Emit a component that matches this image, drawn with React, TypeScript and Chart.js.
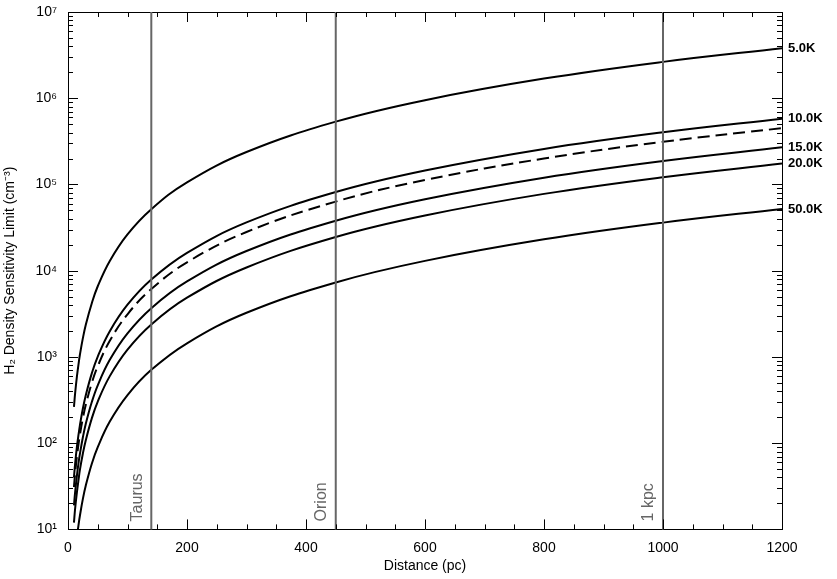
import React, { useEffect, useRef } from 'react';
import { Chart, registerables } from 'chart.js';

Chart.register(...registerables);

const distances = [10, 12, 15, 18, 20, 25, 30, 40, 50, 70, 100, 140, 200, 300, 450, 600, 800, 1000, 1200];
// (roughly square-law curves)
const n5K = [264, 380, 594, 855, 1060, 1650, 2380, 4200, 6600, 12900, 26400, 51700, 106000, 238000, 535000, 950000, 1690000, 2640000, 3800000];
const n10K = [40, 58, 91, 130, 161, 252, 363, 645, 1010, 1975, 4030, 7900, 16100, 36300, 81600, 145000, 258000, 403000, 580000];
const nDashed = [31, 45, 70, 101, 125, 195, 281, 500, 781, 1530, 3125, 6125, 12500, 28100, 63300, 112500, 200000, 312500, 450000];
const n15K = [19, 27, 42, 61, 75, 117, 169, 300, 469, 919, 1875, 3675, 7500, 16900, 38000, 67500, 120000, 187500, 270000];
const n20K = [12, 17.5, 27, 39, 49, 76, 109, 194, 304, 595, 1215, 2380, 4860, 10900, 24600, 43700, 77800, 121500, 175000];
const n50K = [3.6, 5.2, 8.1, 11.7, 14.4, 22.6, 32.5, 57.8, 90, 177, 361, 708, 1440, 3250, 7310, 13000, 23100, 36100, 52000];

const seriesLabels = ['5.0K', '10.0K', '', '15.0K', '20.0K', '50.0K'];
const seriesValues = [n5K, n10K, nDashed, n15K, n20K, n50K];

const markerPositions = [140, 450, 1000];
const markerNames = ['Taurus', 'Orion', '1 kpc'];

const sup: Record<string, string> = { '0': '⁰', '1': '¹', '2': '²', '3': '³', '4': '⁴', '5': '⁵', '6': '⁶', '7': '⁷', '8': '⁸', '9': '⁹' };

const FONT = '"Liberation Sans", Arial, sans-serif';

const overlay = {
  id: 'overlay',
  afterDatasetsDraw(chart: any) {
    const { ctx, chartArea: a, scales } = chart;
    const x = scales.x;
    const y = scales.y;
    ctx.save();
    // marker lines
    ctx.strokeStyle = '#666';
    ctx.lineWidth = 2;
    ctx.fillStyle = '#666';
    ctx.font = `16px ${FONT}`;
    markerPositions.forEach((p, i) => {
      const px = x.getPixelForValue(p);
      ctx.beginPath();
      ctx.moveTo(px, a.top);
      ctx.lineTo(px, a.bottom);
      ctx.stroke();
      ctx.save();
      ctx.translate(px - 6, a.bottom - 8);
      ctx.rotate(-Math.PI / 2);
      ctx.textAlign = 'left';
      ctx.textBaseline = 'bottom';
      ctx.fillText(markerNames[i], 0, 0);
      ctx.restore();
    });
    // right labels
    ctx.fillStyle = '#000';
    ctx.font = `bold 13px ${FONT}`;
    ctx.textAlign = 'left';
    ctx.textBaseline = 'middle';
    seriesValues.forEach((vals, i) => {
      if (!seriesLabels[i]) return;
      ctx.fillText(seriesLabels[i], a.right + 6, y.getPixelForValue(vals[vals.length - 1]));
    });
    // inward ticks
    ctx.strokeStyle = '#000';
    ctx.lineWidth = 1;
    ctx.beginPath();
    for (let v = 0; v <= 1200; v += 50) {
      const px = Math.round(x.getPixelForValue(v)) + 0.5;
      const len = v % 200 === 0 ? 10 : 5;
      ctx.moveTo(px, a.bottom); ctx.lineTo(px, a.bottom - len);
      ctx.moveTo(px, a.top); ctx.lineTo(px, a.top + len);
    }
    for (let e = 1; e <= 7; e++) {
      for (let m = 1; m <= 9; m++) {
        const v = m * Math.pow(10, e);
        if (v > 1e7) break;
        const py = Math.round(y.getPixelForValue(v)) + 0.5;
        const len = m === 1 ? 10 : 5;
        ctx.moveTo(a.left, py); ctx.lineTo(a.left + len, py);
        ctx.moveTo(a.right, py); ctx.lineTo(a.right - len, py);
      }
    }
    ctx.stroke();
    ctx.restore();
  },
};

const App: React.FC = () => {
  const canvasRef = useRef<HTMLCanvasElement>(null);

  useEffect(() => {
    document.body.style.margin = '0';
    const chart = new Chart(canvasRef.current!, {
      type: 'line',
      data: {
        labels: distances,
        datasets: seriesValues.map((vals, i) => ({
          label: seriesLabels[i] || 'dashed',
          data: distances.map((d, j) => ({ x: d, y: vals[j] })),
          borderColor: '#000',
          borderWidth: 2,
          borderDash: i === 2 ? [12, 6] : [],
          pointRadius: 0,
          tension: 0.4,
          fill: false,
        })),
      },
      options: {
        animation: false,
        responsive: false,
        layout: { padding: { top: 4, right: 47, bottom: 0, left: 0 } },
        plugins: { legend: { display: false }, tooltip: { enabled: false } },
        scales: {
          x: {
            type: 'linear',
            min: 0,
            max: 1200,
            grid: { display: false },
            border: { display: true, color: '#000', width: 1 },
            ticks: { stepSize: 200, color: '#000', font: { family: FONT, size: 14 }, padding: 2, maxRotation: 0, callback: (v: any) => String(v) },
            title: { display: true, text: 'Distance (pc)', color: '#000', font: { family: FONT, size: 14 }, padding: { top: 0, bottom: 4 } },
          },
          y: {
            type: 'logarithmic',
            min: 10,
            max: 1e7,
            afterFit: (s: any) => { s.width = 68; },
            grid: { display: false },
            border: { display: true, color: '#000', width: 1 },
            ticks: {
              color: '#000',
              font: { family: FONT, size: 14 },
              autoSkip: false,
              callback: (v: any) => {
                const e = Math.log10(v);
                if (Math.abs(e - Math.round(e)) > 1e-9) return '';
                return '10' + String(Math.round(e)).split('').map((c) => sup[c]).join('');
              },
            },
            title: { display: true, text: 'H₂ Density Sensitivity Limit (cm⁻³)', color: '#000', font: { family: FONT, size: 14 }, padding: 2 },
          },
          y2: {
            type: 'logarithmic', position: 'right', min: 10, max: 1e7, display: true,
            grid: { display: false }, ticks: { display: false }, border: { display: true, color: '#000' },
          },
          x2: {
            type: 'linear', position: 'top', min: 0, max: 1200, display: true,
            grid: { display: false }, ticks: { display: false }, border: { display: true, color: '#000' },
          },
        },
      },
      plugins: [overlay],
    });
    return () => chart.destroy();
  }, []);

  return (
    <div style={{ width: 837, height: 579 }}>
      <canvas ref={canvasRef} width={837} height={579} />
    </div>
  );
};

export default App;
